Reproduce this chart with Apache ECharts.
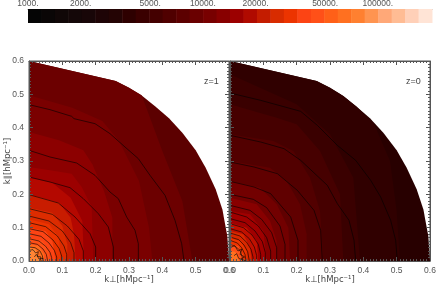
<!DOCTYPE html>
<html>
<head>
<meta charset="UTF-8">
<title>k-space power, z=1 and z=0</title>
<script src="https://cdn.jsdelivr.net/npm/echarts@6/dist/echarts.min.js"></script>
<style>html,body{margin:0;background:#fff}</style>
</head>
<body>
<div id="container" style="width:436px;height:285px;"></div>
<script type="text/javascript">
// colour bar
var barLevels = [1000,1194,1426,1702,2032,2427,2897,3459,4130,4932,5888,7031,8395,10023,11967,14289,17061,20370,24322,29040,34674,41400,49431,59020,70469,84138,100460,119948,143216,170997,204167];
var barColors = ['#050505','#0a0606','#100707','#140708','#180608','#1e0406','#240404','#2e0000','#3a0000','#440000','#500000','#5c0000','#6a0000','#780000','#880000','#9c0000','#b00a00','#c41c00','#d82c00','#ec3400','#fc4414','#ff5018','#ff6018','#ff7020','#ff8030','#ff9450','#ffa878','#ffbc94','#ffd0b8','#ffe4d6'];
var barTicks = [1000,2000,5000,10000,20000,50000,100000];

// outer edge of the binned region, shared by both panels
var outerEdge = [[0,.6],[.26,.54],[.30,.52],[.34,.495],[.38,.463],[.42,.428],[.46,.385],[.5,.332],[.53,.28],[.56,.215],[.58,.155],[.595,.075],[.6,0]];

// z=1 filled levels, outside to inside
var leftBands = [
  outerEdge,
  [[0,.6],[.26,.54],[.30,.52],[.338,.497],[.40,.33],[.46,.18],[.49,0]],
  [[0,.497],[.13,.46],[.22,.42],[.27,.36],[.33,.24],[.36,.1],[.37,0]],
  [[0,.387],[.09,.362],[.163,.332],[.19,.29],[.225,.21],[.25,.13],[.25,0]],
  [[0,.282],[.063,.272],[.128,.262],[.158,.222],[.188,.162],[.193,0]],
  [[0,.25],[.07,.235],[.125,.19],[.16,.12],[.165,0]],
  [[0,.2],[.09,.175],[.125,.13],[.135,.08],[.14,0]],
  [[0,.16],[.07,.145],[.10,.105],[.115,.05],[.115,0]],
  [[0,.125],[.06,.11],[.09,.07],[.095,0]],
  [[0,.1],[.05,.09],[.07,.06],[.08,0]],
  [[0,.07],[.04,.06],[.06,.03],[.06,0]],
  [[0,.05],[.03,.045],[.045,.02],[.045,0]],
  [[0,.04],[.02,.035],[.03,.01],[.03,0]]
];
var leftBandColors = ['#5c0000','#6c0000','#7a0000','#8c0000','#9c0000','#b40800','#c81c00','#dc2c00','#ec3400','#fc4414','#ff5018','#ff6a1c','#ff8434'];

var leftContours = [
  [[0,.469],[.063,.454],[.128,.434],[.135,.427],[.198,.412],[.243,.382],[.288,.342],[.328,.307],[.363,.257],[.408,.197],[.438,.122],[.458,.052],[.465,0]],
  [[0,.332],[.063,.312],[.143,.294],[.198,.257],[.243,.207],[.268,.187],[.293,.132],[.318,.092],[.328,.052],[.328,0]],
  [[0,.252],[.063,.237],[.123,.22],[.163,.187],[.208,.142],[.238,.102],[.253,.042],[.253,0]],
  [[0,.199],[.088,.174],[.138,.132],[.183,.082],[.2,.042],[.2,0]],
  [[0,.157],[.07,.14],[.115,.105],[.15,.065],[.163,.03],[.163,0]],
  [[0,.135],[.06,.12],[.1,.09],[.125,.055],[.135,.025],[.135,0]],
  [[0,.115],[.05,.103],[.085,.075],[.105,.045],[.113,.02],[.113,0]],
  [[0,.097],[.042,.088],[.072,.063],[.09,.038],[.098,.015],[.098,0]],
  [[0,.082],[.036,.074],[.06,.054],[.076,.032],[.083,.012],[.083,0]],
  [[0,.067],[.03,.06],[.05,.044],[.063,.026],[.068,.01],[.068,0]],
  [[0,.055],[.025,.05],[.042,.036],[.052,.02],[.056,0]],
  [[0,.042],[.018,.04],[.033,.03],[.04,.016],[.043,0]],
  [[0,.032],[.012,.034],[.02,.024],[.028,.028],[.025,.014],[.036,.012],[.033,0]],
  [[.016,.012],[.022,.02],[.03,.006],[.042,.008],[.038,0]]
];

// z=0 filled levels, outside to inside
var rightBands = [
  outerEdge,
  [[0,.6],[.26,.54],[.30,.52],[.34,.495],[.38,.463],[.432,.412],[.48,.3],[.5,.15],[.51,0]],
  [[0,.56],[.2,.47],[.3,.38],[.37,.25],[.39,0]],
  [[0,.47],[.14,.43],[.2,.41],[.27,.33],[.33,.2],[.34,0]],
  [[0,.38],[.13,.36],[.19,.33],[.24,.25],[.27,.15],[.28,0]],
  [[0,.3],[.12,.28],[.17,.24],[.21,.17],[.23,.08],[.23,0]],
  [[0,.24],[.09,.22],[.14,.17],[.175,.1],[.18,0]],
  [[0,.19],[.08,.17],[.12,.12],[.14,.06],[.14,0]],
  [[0,.15],[.06,.14],[.1,.09],[.11,0]],
  [[0,.115],[.05,.1],[.08,.06],[.085,0]],
  [[0,.09],[.04,.08],[.06,.04],[.065,0]],
  [[0,.07],[.03,.06],[.05,.03],[.05,0]],
  [[0,.05],[.025,.045],[.038,.02],[.04,0]],
  [[0,.03],[.015,.028],[.025,.012],[.028,0]]
];
var rightBandColors = ['#280000','#300000','#3a0000','#460000','#520000','#600000','#720000','#880000','#a00000','#c01000','#d82800','#ec3400','#ff5018','#ff7020'];

var rightContours = [
  [[0,.504],[.092,.482],[.212,.449],[.262,.407],[.322,.347],[.377,.302],[.422,.242],[.452,.192],[.482,.122],[.497,.062],[.502,0]],
  [[0,.377],[.092,.357],[.162,.337],[.212,.302],[.292,.227],[.322,.172],[.357,.122],[.372,.062],[.377,0]],
  [[0,.297],[.072,.282],[.142,.262],[.202,.212],[.252,.152],[.272,.092],[.277,0]],
  [[0,.239],[.072,.222],[.122,.202],[.182,.132],[.204,.062],[.204,0]],
  [[0,.2],[.07,.185],[.11,.16],[.15,.105],[.165,.05],[.165,0]],
  [[0,.167],[.06,.152],[.095,.125],[.125,.085],[.14,.04],[.14,0]],
  [[0,.147],[.05,.132],[.085,.105],[.11,.07],[.122,.03],[.122,0]],
  [[0,.127],[.045,.115],[.075,.09],[.097,.058],[.106,.025],[.106,0]],
  [[0,.112],[.04,.1],[.066,.078],[.085,.05],[.092,.02],[.092,0]],
  [[0,.097],[.035,.087],[.058,.067],[.073,.042],[.08,.016],[.08,0]],
  [[0,.084],[.03,.075],[.05,.056],[.063,.035],[.069,.012],[.069,0]],
  [[0,.072],[.026,.064],[.042,.048],[.053,.028],[.058,0]],
  [[0,.062],[.022,.054],[.035,.04],[.045,.02],[.048,0]],
  [[0,.05],[.016,.044],[.03,.032],[.036,.015],[.038,0]],
  [[0,.04],[.014,.046],[.024,.03],[.036,.036],[.03,.02],[.044,.012],[.032,.006]],
  [[.012,.016],[.02,.022],[.026,.008],[.04,.002],[.05,0]]
];

var tickColor = '#555';
var labelFont = { color: '#555', fontSize: 8.5, fontFamily: 'Liberation Sans' };

function frameAxis(grid, position, showLabel, name) {
  var axis = {
    type: 'value', gridIndex: grid, position: position, z: 10,
    min: 0, max: 0.6, interval: 0.1,
    axisLine: { show: true, onZero: false, lineStyle: { color: tickColor, width: 1 } },
    axisTick: { show: true, inside: true, length: 4, lineStyle: { color: tickColor, width: 1 } },
    minorTick: { show: true, splitNumber: 10, length: 2, lineStyle: { color: tickColor, width: 1 } },
    splitLine: { show: false },
    axisLabel: {
      show: true, margin: 5,
      formatter: function (v) { return showLabel ? v.toFixed(1) : ''; },
      color: labelFont.color, fontSize: labelFont.fontSize, fontFamily: labelFont.fontFamily
    }
  };
  if (name) {
    axis.name = name;
    axis.nameLocation = 'middle';
    axis.nameMoveOverlap = false;
    axis.nameGap = position === 'left' ? 17 : 14;
    axis.nameTextStyle = { color: '#444', fontSize: 8.5, fontFamily: 'DejaVu Sans' };
  }
  return axis;
}

function panelSeries(axisIdx, bands, colors, contours) {
  var out = [];
  bands.forEach(function (b, i) {
    out.push({
      type: 'line', xAxisIndex: axisIdx, yAxisIndex: axisIdx, data: b,
      showSymbol: false,
      lineStyle: { width: 0 },
      areaStyle: { color: colors[i], opacity: 1 }
    });
  });
  contours.forEach(function (c) {
    out.push({
      type: 'line', xAxisIndex: axisIdx, yAxisIndex: axisIdx, data: c,
      showSymbol: false,
      lineStyle: { color: '#000', width: 0.8, opacity: 0.75 }
    });
  });
  return out;
}

// empty series so the mirror axes on top and right belong to a coordinate system
function mirrorSeries(axisIdx) {
  return { type: 'line', xAxisIndex: axisIdx, yAxisIndex: axisIdx, data: [] };
}

var barCells = barColors.map(function (c, i) { return [barLevels[i], barLevels[i + 1]]; });

var zTextStyle = { color: '#444', fontSize: 9, fontWeight: 'normal', fontFamily: 'Liberation Sans' };

var option = {
  animation: false,
  title: [
    { text: 'z=1', left: 199, top: 72, textStyle: zTextStyle },
    { text: 'z=0', left: 401, top: 72, textStyle: zTextStyle }
  ],
  grid: [
    { left: 29, width: 200, top: 61, height: 200, outerBoundsMode: 'none', show: true, borderColor: tickColor, borderWidth: 1 },
    { left: 230, width: 200, top: 61, height: 200, outerBoundsMode: 'none', show: true, borderColor: tickColor, borderWidth: 1 },
    { left: 28, width: 404, top: 9, height: 14, outerBoundsMode: 'none' }
  ],
  xAxis: [
    frameAxis(0, 'bottom', true, 'k\u22A5[hMpc\u207B\u00B9]'),
    frameAxis(1, 'bottom', true, 'k\u22A5[hMpc\u207B\u00B9]'),
    {
      type: 'log', gridIndex: 2, position: 'top', min: 1000, max: 204167,
      axisLine: { show: true, onZero: false, lineStyle: { color: '#888', width: 1 } },
      axisTick: { show: true, inside: true, length: 1, customValues: barTicks, lineStyle: { color: '#888' } },
      splitLine: { show: false },
      axisLabel: {
        margin: 1, customValues: barTicks,
        formatter: function (v) { return v + '.'; },
        color: labelFont.color, fontSize: 8.5, fontFamily: 'Liberation Sans'
      }
    },
    frameAxis(0, 'top', false),
    frameAxis(1, 'top', false)
  ],
  yAxis: [
    frameAxis(0, 'left', true, 'k\u2225[hMpc\u207B\u00B9]'),
    frameAxis(1, 'left', false),
    { type: 'value', gridIndex: 2, min: 0, max: 1, show: false },
    frameAxis(0, 'right', false),
    frameAxis(1, 'right', false)
  ],
  series: panelSeries(0, leftBands, leftBandColors, leftContours)
    .concat(panelSeries(1, rightBands, rightBandColors, rightContours))
    .concat([mirrorSeries(3), mirrorSeries(4), {
      type: 'custom', xAxisIndex: 2, yAxisIndex: 2,
      data: barCells,
      encode: { x: [0, 1] },
      renderItem: function (params, api) {
        var a = api.coord([api.value(0), 0]);
        var b = api.coord([api.value(1), 1]);
        return {
          type: 'rect',
          shape: { x: a[0], y: b[1], width: b[0] - a[0] + 0.5, height: a[1] - b[1] },
          style: { fill: barColors[params.dataIndex] }
        };
      }
    }])
};

var myChart = echarts.init(document.getElementById('container'));
myChart.setOption(option);
</script>
</body>
</html>
